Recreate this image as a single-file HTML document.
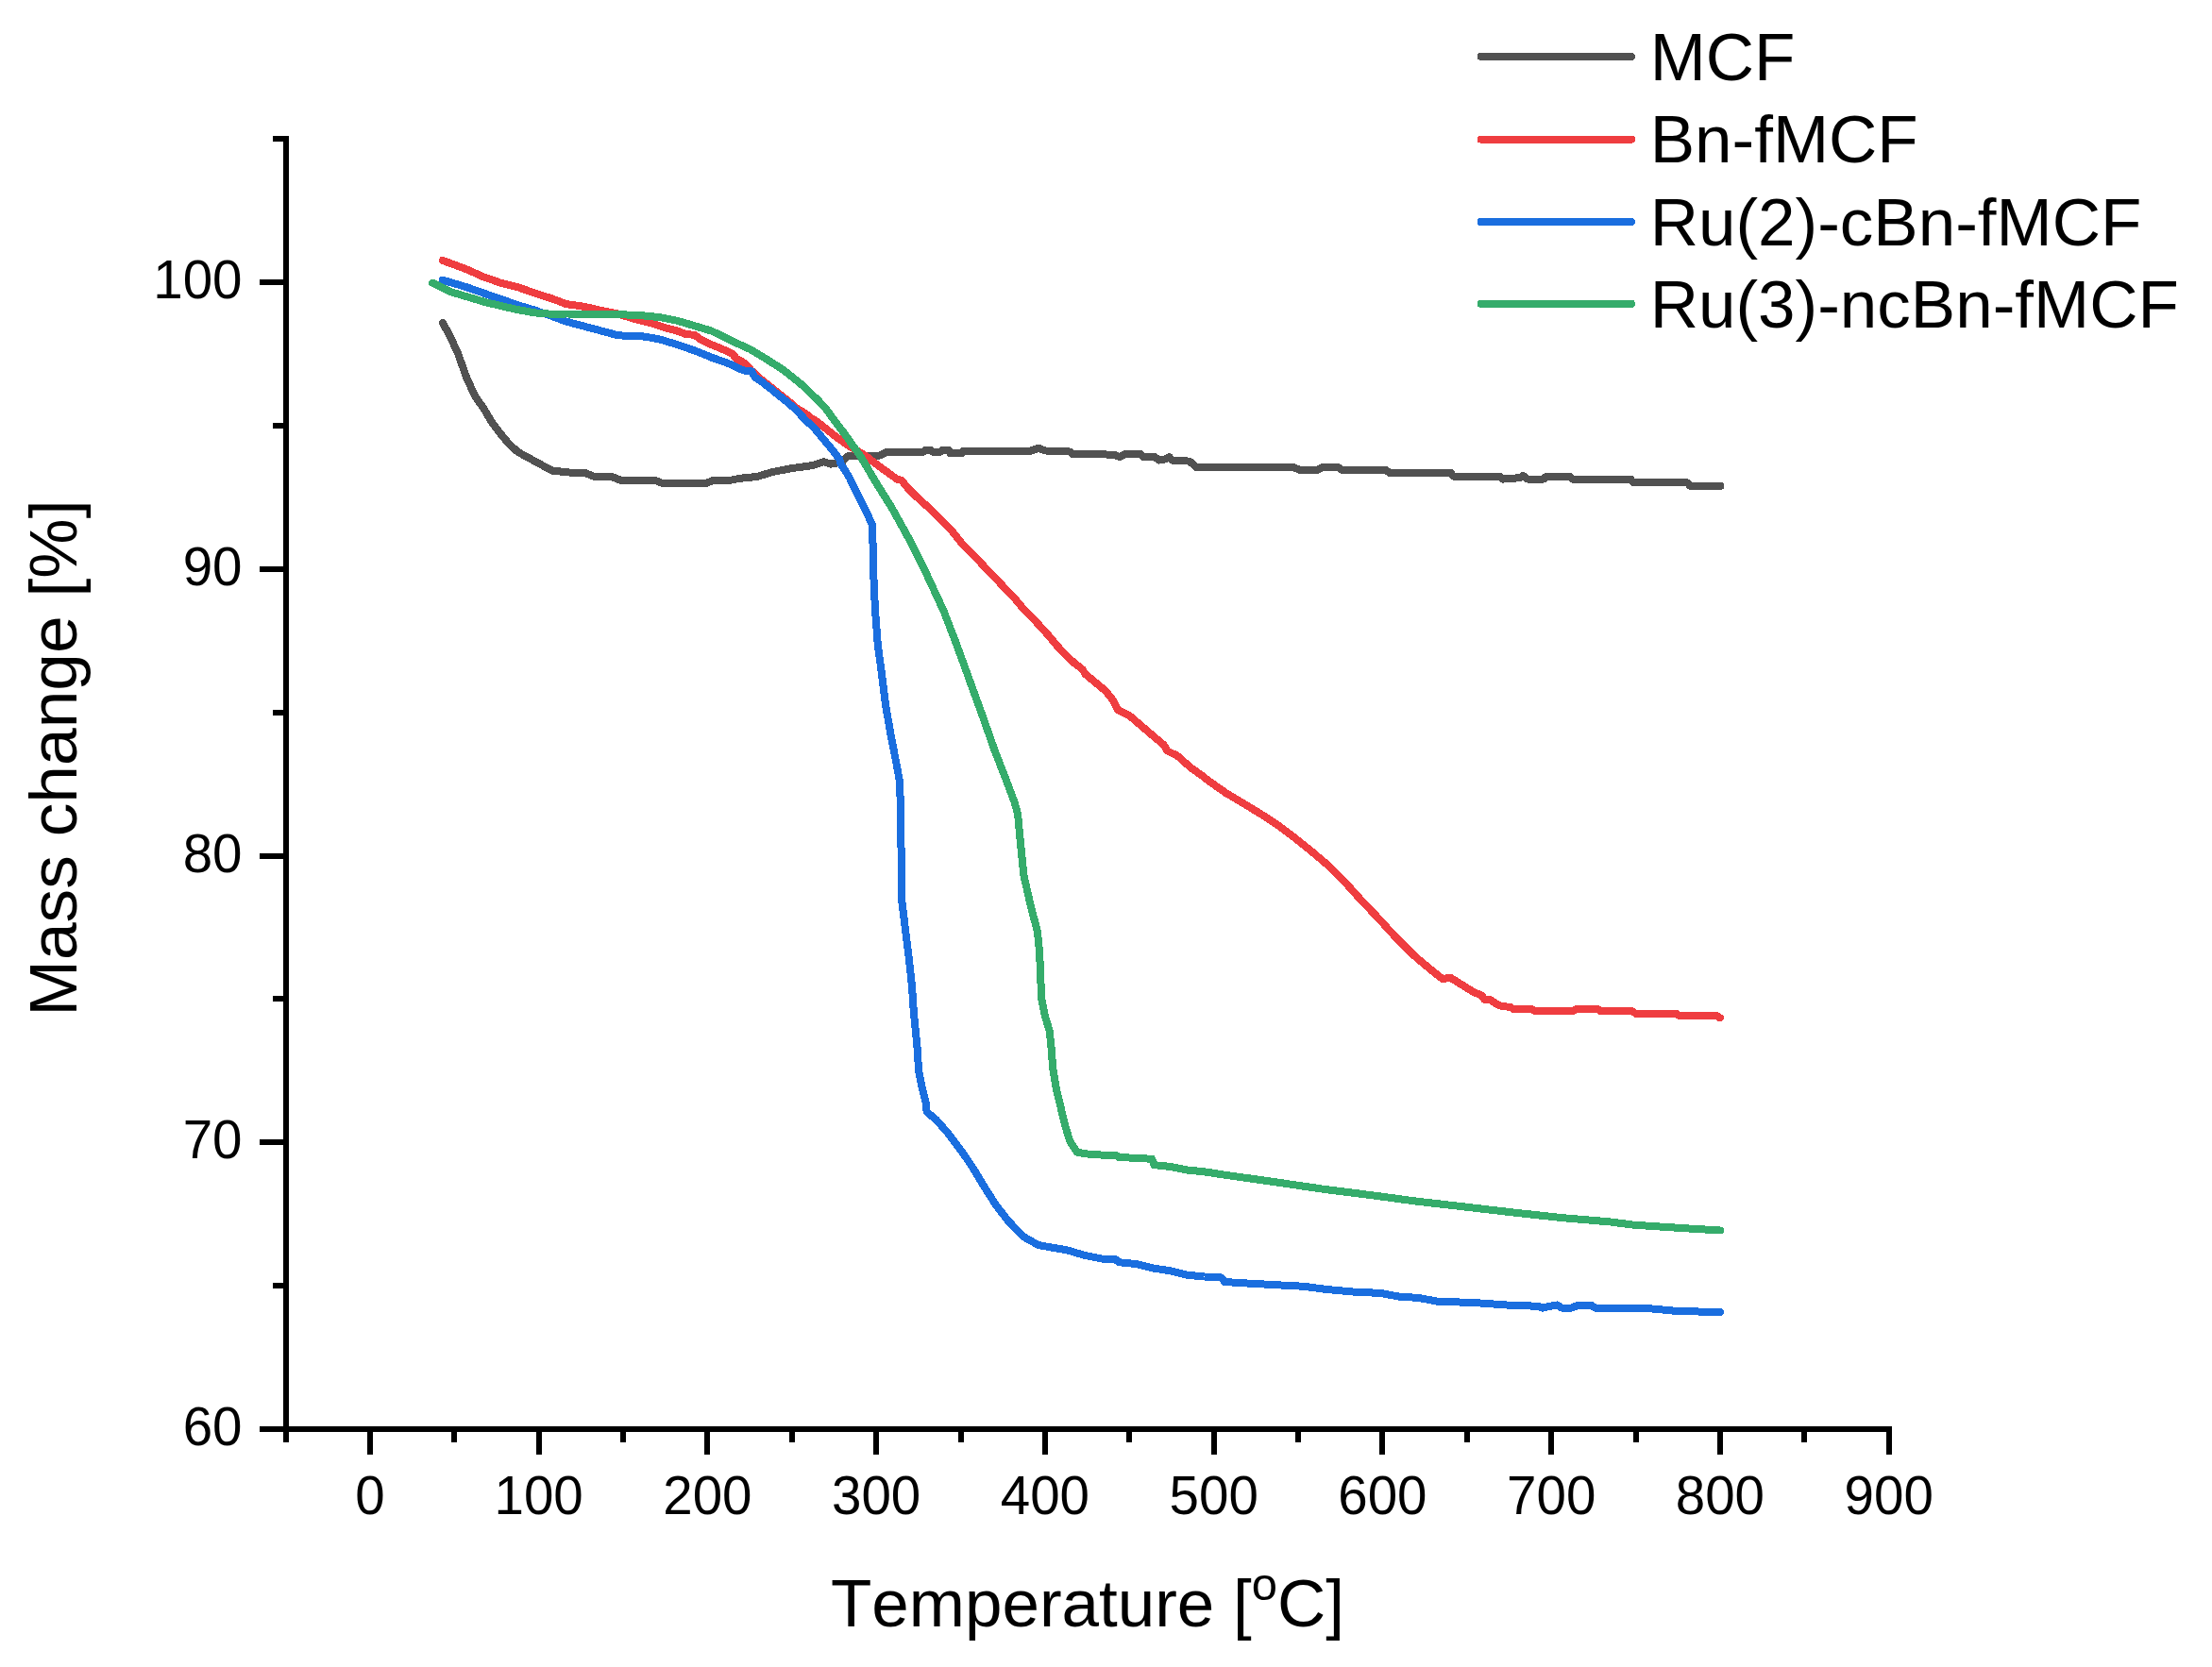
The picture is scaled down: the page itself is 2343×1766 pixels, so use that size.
<!DOCTYPE html>
<html lang="en"><head><meta charset="utf-8"><title>TGA mass change</title>
<style>html,body{margin:0;padding:0;background:#fff}svg{display:block}text{font-kerning:none;font-variant-ligatures:none;font-family:"Liberation Sans",Arial,Helvetica,sans-serif;fill:#000}</style></head><body>
<svg width="2343" height="1766" viewBox="0 0 2343 1766">
<rect width="2343" height="1766" fill="#fff"/>
<g stroke="#000" stroke-width="6" fill="none" stroke-linecap="butt" shape-rendering="crispEdges">
<line x1="303" y1="144" x2="303" y2="1528"/>
<line x1="275" y1="1514" x2="2004" y2="1514"/>
<line x1="289" y1="1362.1" x2="300" y2="1362.1"/>
<line x1="275" y1="1210.2" x2="300" y2="1210.2"/>
<line x1="289" y1="1058.4" x2="300" y2="1058.4"/>
<line x1="275" y1="906.5" x2="300" y2="906.5"/>
<line x1="289" y1="754.6" x2="300" y2="754.6"/>
<line x1="275" y1="602.8" x2="300" y2="602.8"/>
<line x1="289" y1="450.9" x2="300" y2="450.9"/>
<line x1="275" y1="299.0" x2="300" y2="299.0"/>
<line x1="289" y1="147.1" x2="300" y2="147.1"/>
<line x1="391.9" y1="1517" x2="391.9" y2="1541"/>
<line x1="481.3" y1="1517" x2="481.3" y2="1528"/>
<line x1="570.6" y1="1517" x2="570.6" y2="1541"/>
<line x1="660.0" y1="1517" x2="660.0" y2="1528"/>
<line x1="749.4" y1="1517" x2="749.4" y2="1541"/>
<line x1="838.8" y1="1517" x2="838.8" y2="1528"/>
<line x1="928.1" y1="1517" x2="928.1" y2="1541"/>
<line x1="1017.5" y1="1517" x2="1017.5" y2="1528"/>
<line x1="1106.9" y1="1517" x2="1106.9" y2="1541"/>
<line x1="1196.3" y1="1517" x2="1196.3" y2="1528"/>
<line x1="1285.7" y1="1517" x2="1285.7" y2="1541"/>
<line x1="1375.0" y1="1517" x2="1375.0" y2="1528"/>
<line x1="1464.4" y1="1517" x2="1464.4" y2="1541"/>
<line x1="1553.8" y1="1517" x2="1553.8" y2="1528"/>
<line x1="1643.2" y1="1517" x2="1643.2" y2="1541"/>
<line x1="1732.5" y1="1517" x2="1732.5" y2="1528"/>
<line x1="1821.9" y1="1517" x2="1821.9" y2="1541"/>
<line x1="1911.3" y1="1517" x2="1911.3" y2="1528"/>
<line x1="2000.7" y1="1517" x2="2000.7" y2="1541"/>
</g>
<g font-size="56.5px">
<text x="256.5" y="1531.1" text-anchor="end">60</text>
<text x="256.5" y="1227.3" text-anchor="end">70</text>
<text x="256.5" y="923.6" text-anchor="end">80</text>
<text x="256.5" y="619.9" text-anchor="end">90</text>
<text x="256.5" y="316.1" text-anchor="end">100</text>
<text x="391.9" y="1604.3" text-anchor="middle">0</text>
<text x="570.6" y="1604.3" text-anchor="middle">100</text>
<text x="749.4" y="1604.3" text-anchor="middle">200</text>
<text x="928.1" y="1604.3" text-anchor="middle">300</text>
<text x="1106.9" y="1604.3" text-anchor="middle">400</text>
<text x="1285.7" y="1604.3" text-anchor="middle">500</text>
<text x="1464.4" y="1604.3" text-anchor="middle">600</text>
<text x="1643.2" y="1604.3" text-anchor="middle">700</text>
<text x="1821.9" y="1604.3" text-anchor="middle">800</text>
<text x="2000.7" y="1604.3" text-anchor="middle">900</text>
</g>
<text font-size="71px" x="1152" y="1723.2" text-anchor="middle">Temperature [<tspan font-size="49px" dy="-28.5">o</tspan><tspan dy="28.5">C]</tspan></text>
<text font-size="71.3px" transform="translate(80.6 803) rotate(-90)" text-anchor="middle">Mass change [%]</text>
<g fill="none" stroke-width="8" stroke-linecap="round" stroke-linejoin="round" shape-rendering="crispEdges">
<polyline stroke="#515151" points="468.9,342.2 476.2,354.9 485.2,374.8 494.2,400.1 503.3,420.0 512.3,432.6 521.4,448.0 530.4,459.8 539.5,470.6 548.5,478.8 566.6,488.7 584.7,498.6 602.7,500.5 620.8,501.4 629.9,505.0 648.0,505.0 657.0,508.6 693.2,508.6 702.2,512.2 747.4,512.2 756.5,508.6 774.5,508.6 783.6,506.8 801.7,505.0 818.1,500.1 836.2,496.5 861.5,492.9 872.3,489.2 880.0,491.6 891.8,489.8 897.2,483.5 932.4,482.5 937.9,479.4 977.6,478.9 980.4,476.7 985.8,476.7 988.5,478.9 995.7,478.9 998.4,476.7 1004.8,476.7 1006.6,480.3 1018.3,480.3 1019.7,478.0 1080.0,478.0 1089.3,478.4 1100.2,474.8 1107.4,477.5 1132.7,478.4 1136.3,481.1 1179.7,481.6 1186.1,484.0 1192.3,480.6 1207.7,480.6 1210.7,484.0 1223.0,484.0 1227.6,487.6 1235.3,486.1 1238.4,484.0 1241.5,487.6 1259.9,488.6 1267.6,495.3 1370.6,495.3 1376.7,497.8 1395.2,497.8 1401.3,494.7 1416.7,494.7 1421.3,497.8 1467.4,497.8 1472.0,500.9 1536.6,500.9 1539.7,504.6 1588.9,504.6 1591.9,507.6 1610.4,506.1 1613.4,503.9 1618.1,507.6 1635.0,507.6 1638.0,504.6 1662.6,504.6 1665.7,507.6 1727.2,507.6 1730.3,511.3 1787.1,511.3 1790.2,514.7 1822.5,514.7"/>
<polyline stroke="#EF3D40" points="468.9,275.9 494.2,285.3 512.3,293.4 530.4,299.7 548.5,304.2 566.6,310.6 584.7,316.4 600.0,322.2 613.6,324.0 627.1,326.7 640.7,329.8 654.2,332.5 672.3,338.0 690.4,342.5 704.0,347.0 717.5,350.6 726.6,354.2 735.6,354.7 741.0,358.8 749.2,363.3 767.1,370.7 776.2,375.3 780.0,379.9 789.0,384.9 795.8,392.5 802.6,399.0 811.6,406.2 820.7,413.5 829.7,420.7 838.8,427.9 845.0,433.5 852.3,437.4 858.0,442.0 866.6,447.6 875.6,454.8 884.7,462.1 898.1,471.7 916.2,482.5 934.2,496.1 950.5,507.9 955.0,508.8 961.4,516.9 970.4,525.9 988.5,542.2 1006.6,560.3 1020.0,577.2 1029.0,586.2 1038.1,595.3 1047.1,605.2 1056.2,614.2 1065.2,624.2 1074.2,633.2 1083.3,644.1 1092.3,653.1 1101.4,663.1 1110.4,673.0 1119.5,683.9 1128.5,693.8 1137.5,702.0 1146.6,709.2 1149.5,714.0 1171.2,732.1 1178.5,741.2 1183.9,752.0 1196.6,758.3 1216.5,775.5 1232.7,789.1 1236.3,795.4 1247.2,800.8 1261.7,813.5 1274.3,822.5 1280.0,827.1 1298.1,839.8 1316.2,850.6 1334.2,861.5 1352.3,873.2 1370.4,886.8 1388.5,901.3 1406.6,916.6 1424.7,934.7 1442.7,954.6 1460.8,973.6 1478.9,993.5 1497.0,1011.6 1515.1,1026.9 1527.7,1036.9 1536.8,1036.0 1551.2,1045.0 1560.0,1050.5 1569.5,1054.6 1572.2,1058.7 1579.0,1059.3 1585.8,1064.1 1591.2,1066.1 1599.3,1066.8 1603.4,1069.1 1622.4,1069.1 1626.5,1071.1 1665.8,1071.1 1669.9,1068.8 1691.6,1068.8 1695.6,1071.1 1728.2,1071.1 1732.9,1073.8 1775.7,1073.8 1778.4,1075.9 1817.7,1075.9 1821.8,1078.3"/>
<polyline stroke="#1A6EDF" points="468.9,296.7 494.2,304.2 512.3,310.6 530.4,316.9 548.5,323.2 566.6,328.7 584.7,335.0 600.0,340.7 613.6,344.3 627.1,347.9 640.7,351.5 654.2,355.2 667.8,356.1 681.4,356.5 690.4,357.9 699.5,359.7 708.5,362.4 717.5,365.1 726.6,368.3 735.6,371.4 744.7,375.0 753.7,378.7 767.1,383.4 776.2,387.0 785.2,391.5 791.5,393.3 796.1,393.3 799.7,399.7 807.8,405.1 816.9,412.3 825.9,419.6 834.9,426.8 844.0,434.9 853.0,444.9 862.1,453.0 871.1,463.9 880.1,474.7 889.2,486.5 890.4,491.0 899.5,505.5 908.5,523.6 917.5,541.7 923.9,556.1 924.8,585.1 925.7,621.2 927.1,647.1 929.8,683.3 933.5,710.4 938.0,746.6 944.3,782.7 949.7,809.9 953.0,828.0 953.9,855.1 954.2,891.2 954.6,900.0 954.8,950.6 957.9,975.9 962.4,1012.1 966.0,1044.7 967.8,1071.8 971.4,1108.0 973.2,1135.1 976.9,1153.2 980.5,1167.6 981.6,1178.0 991.6,1186.2 1004.2,1200.6 1020.5,1222.3 1031.4,1238.6 1042.2,1256.7 1054.9,1276.6 1067.5,1292.9 1083.8,1310.0 1100.1,1319.1 1130.8,1324.5 1148.9,1329.9 1167.0,1333.5 1181.5,1334.1 1185.1,1337.2 1203.2,1339.0 1221.2,1343.5 1239.3,1346.2 1257.4,1350.7 1275.5,1352.5 1293.6,1353.4 1297.2,1358.0 1315.2,1359.2 1348.1,1361.0 1381.0,1362.8 1406.3,1366.1 1434.2,1368.6 1462.0,1369.9 1482.3,1373.7 1502.5,1374.9 1522.8,1378.7 1560.8,1380.0 1596.2,1382.5 1629.1,1383.8 1634.2,1385.6 1641.8,1383.8 1649.4,1382.5 1654.4,1385.6 1664.6,1385.6 1672.2,1382.5 1684.8,1382.5 1689.9,1385.6 1727.8,1386.3 1740.5,1385.6 1775.9,1388.9 1822.0,1390.1"/>
<polyline stroke="#35AC6B" points="458.1,299.7 476.2,308.8 494.2,314.2 512.3,319.6 530.4,324.1 548.5,328.1 566.6,331.4 584.7,332.8 600.0,332.5 627.1,332.7 654.2,333.0 681.4,334.4 699.5,336.2 717.5,339.8 735.6,345.2 753.7,350.6 776.2,361.7 794.2,369.8 812.3,380.7 830.4,392.4 848.5,406.9 866.6,424.1 875.6,434.0 884.7,446.7 893.7,458.4 902.7,471.1 911.8,483.8 926.6,509.1 944.7,538.1 962.7,570.6 980.8,606.8 999.5,647.1 1012.1,679.7 1026.6,719.5 1041.0,759.2 1053.7,795.4 1066.4,828.0 1074.5,849.7 1078.1,862.3 1079.9,882.2 1082.6,909.3 1084.4,927.1 1091.7,959.7 1098.9,986.8 1101.1,1008.5 1102.2,1035.6 1103.4,1059.1 1107.1,1077.2 1111.6,1091.7 1113.4,1108.0 1115.2,1131.5 1118.8,1153.2 1124.5,1177.1 1129.0,1195.2 1133.5,1209.7 1140.8,1220.5 1148.9,1222.3 1167.0,1223.6 1183.3,1224.5 1185.1,1225.9 1203.2,1226.9 1220.3,1227.8 1222.2,1234.1 1239.3,1235.9 1257.4,1239.5 1275.5,1241.3 1300.0,1245.1 1350.6,1252.2 1401.3,1259.7 1451.9,1266.1 1502.5,1272.9 1553.2,1278.7 1603.8,1284.6 1654.4,1290.1 1705.1,1294.4 1730.4,1297.7 1781.0,1301.0 1822.0,1303.5"/>
</g>
<g stroke-width="8" stroke-linecap="round" shape-rendering="crispEdges">
<line x1="1568.5" y1="59.9" x2="1728" y2="59.9" stroke="#515151"/>
<line x1="1568.5" y1="147.6" x2="1728" y2="147.6" stroke="#EF3D40"/>
<line x1="1568.5" y1="235.0" x2="1728" y2="235.0" stroke="#1A6EDF"/>
<line x1="1568.5" y1="321.8" x2="1728" y2="321.8" stroke="#35AC6B"/>
</g>
<g font-size="71px">
<text x="1747.7" y="85.0">MCF</text>
<text x="1747.7" y="172.4">Bn-fMCF</text>
<text x="1747.7" y="259.9">Ru(2)-cBn-fMCF</text>
<text x="1747.7" y="347.3">Ru(3)-ncBn-fMCF</text>
</g>
</svg></body></html>
